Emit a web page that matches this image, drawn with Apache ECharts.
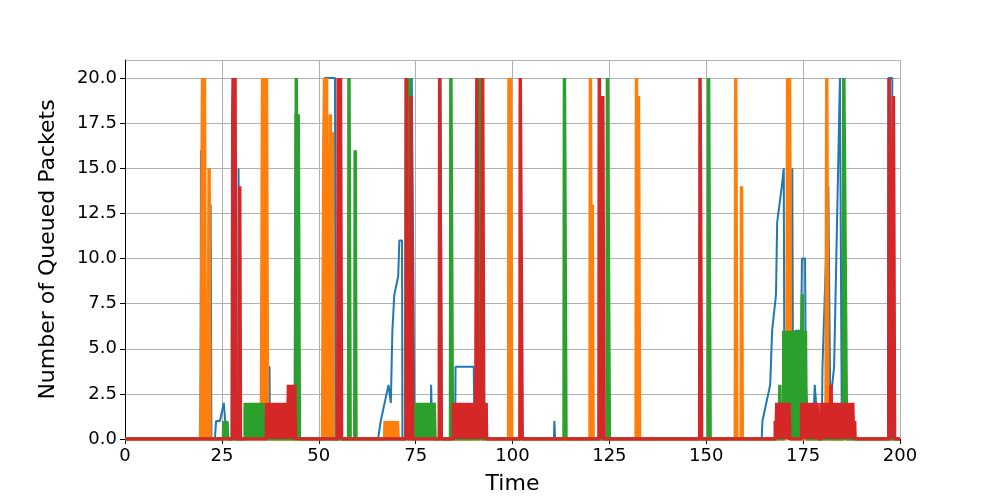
<!DOCTYPE html><html><head><meta charset="utf-8">
<script src="https://cdn.jsdelivr.net/npm/echarts@6/dist/echarts.min.js"></script>
<style>body{margin:0}#c{width:1000px;height:500px}</style></head><body><div id="c"></div>
<script>
const seriesNames=['Queue 1','Queue 2','Queue 3','Queue 4'];
const blue=[[0,0],[19.5,0],[19.6,16],[19.8,0],[22,0],[22.1,13],[22.3,0],[23.2,0],[23.5,1],[24,1],[24.5,1],[25.5,2],[26,2],[26.2,0],[27.5,0],[27.6,18],[27.9,20],[28.2,0],[29.2,0],[29.3,15],[29.6,15],[29.7,0],[36.4,0],[36.5,4],[37.3,4],[37.4,0],[43.7,0],[43.8,4],[44,18],[44.3,0],[51.4,0],[51.5,20],[54.2,20],[54.3,0],[54.9,0],[55,20],[55.5,0],[65.3,0],[66,1],[67,2],[68,3],[68.5,3],[68.6,2],[69,6],[69.5,8],[70.5,9],[70.8,11],[71.5,11],[71.6,0],[72.4,0],[72.5,20],[73,0],[73.9,0],[74,20],[74.5,7],[74.7,0],[78.9,0],[79,3],[79.3,0],[81.3,0],[81.4,20],[81.8,0],[85.2,0],[85.3,4],[90,4],[90.2,0],[110.7,0],[110.8,1],[111,0],[164.3,0],[164.5,1],[166.5,3],[167,6],[168,8],[168.3,12],[169.5,14],[170,15],[170.2,0],[172.1,0],[172.2,15],[172.4,3],[173,6],[174.5,6],[174.7,10],[175.5,10],[175.7,3],[176.5,0],[177.5,0],[178,3],[179,0],[179.8,0],[180,4],[180.5,4],[181.5,14],[182,2],[183,4],[183.5,4],[184.5,20],[185,0],[196.9,0],[197,20],[198,20],[198.2,0],[200,0]];
const orange=[[0,0],[19.5,0],[19.7,4],[20,20],[20.3,0],[20.5,20],[20.8,0],[21.5,0],[21.7,15],[21.9,0],[35.2,0],[35.5,20],[35.8,0],[36,20],[36.3,0],[36.5,20],[36.8,0],[51,0],[51.3,16],[51.5,20],[51.8,0],[52,20],[52.3,0],[52.5,11],[52.8,0],[53,18],[53.3,0],[53.5,17],[53.8,0],[67,0],[67.1,1],[67.3,0],[67.9,1],[68.1,0],[68.7,1],[68.9,0],[69.5,1],[69.7,0],[70.3,1],[70.5,0],[99,0],[99.1,20],[99.4,0],[99.5,20],[99.8,0],[120,0],[120.1,20],[120.4,0],[120.6,13],[120.8,0],[131.9,0],[132,20],[132.3,0],[132.5,19],[132.8,0],[157.5,0],[157.6,20],[157.9,0],[159,0],[159.1,14],[159.3,0],[170.8,0],[171,20],[171.3,0],[171.5,20],[171.8,0],[180.9,0],[181.1,20],[181.4,0],[200,0]];
const green=[[0,0],[25.4,0],[25.5,1],[25.7,0],[26.3,1],[26.5,0],[31,0],[31,2],[31.2,0],[31.4,2],[31.6,0],[31.8,2],[32,0],[32.2,2],[32.4,0],[32.6,2],[32.8,0],[33,2],[33.2,0],[33.4,2],[33.6,0],[33.8,2],[34,0],[34.2,2],[34.4,0],[34.6,2],[34.8,0],[35,2],[35.2,0],[35.6,2],[35.7,0],[44.1,0],[44.2,20],[44.5,0],[44.7,18],[45,0],[57.7,0],[57.8,20],[58.1,0],[59.3,0],[59.4,16],[59.6,0],[72.5,0],[72.6,20],[72.9,0],[73.4,20],[73.7,0],[75,0],[75,2],[75.2,0],[75.4,2],[75.6,0],[75.8,2],[76,0],[76.2,2],[76.4,0],[76.6,2],[76.8,0],[77,2],[77.2,0],[77.4,2],[77.6,0],[77.8,2],[78,0],[78.2,2],[78.4,0],[78.6,2],[78.8,0],[79,2],[79.2,0],[79.4,2],[79.6,0],[79.8,2],[80,0],[84,0],[84.1,20],[84.5,0],[91.4,0],[91.5,20],[91.9,0],[113.3,0],[113.4,20],[113.8,0],[124.4,0],[124.5,20],[125,0],[150.5,0],[150.6,20],[151,0],[168.8,0],[169,3],[169.2,0],[170,0],[170,6],[170.2,0],[170.4,6],[170.6,0],[170.8,6],[171,0],[171.2,6],[171.4,0],[171.6,6],[171.8,0],[172,6],[172.2,0],[172.4,6],[172.6,0],[172.8,6],[173,0],[173.2,6],[173.4,0],[173.6,6],[173.8,0],[174,6],[174.2,0],[174.4,6],[174.6,0],[174.8,8],[175,0],[175.2,6],[175.4,0],[175.6,6],[175.8,0],[185.4,0],[185.5,20],[186.2,0],[200,0]];
const red=[[0,0],[27.7,0],[27.9,20],[28.2,0],[28.4,20],[28.6,0],[29.5,0],[29.6,14],[29.8,0],[36.5,0],[36.5,2],[36.7,0],[36.9,2],[37.1,0],[37.3,2],[37.5,0],[37.7,2],[37.9,0],[38.1,2],[38.3,0],[38.5,2],[38.7,0],[38.9,2],[39.1,0],[39.3,2],[39.5,0],[39.7,2],[39.9,0],[40.1,2],[40.3,0],[40.5,2],[40.7,0],[40.9,2],[41.1,0],[41.3,2],[41.5,0],[41.7,2],[41.9,0],[42.2,3],[42.4,0],[42.6,3],[42.8,0],[43,3],[43.2,0],[43.4,3],[43.6,0],[43.8,3],[44,0],[54.9,0],[55,20],[55.3,0],[55.6,20],[55.9,0],[65.5,0],[72.5,0],[72.6,20],[73,0],[73.7,0],[73.8,19],[74.2,0],[81.1,0],[81.2,20],[81.6,0],[84.7,0],[84.7,2],[84.9,0],[85.1,2],[85.3,0],[85.5,2],[85.7,0],[85.9,2],[86.1,0],[86.3,2],[86.5,0],[86.7,2],[86.9,0],[87.1,2],[87.3,0],[87.5,2],[87.7,0],[87.9,2],[88.1,0],[88.3,2],[88.5,0],[88.7,2],[88.9,0],[89.1,2],[89.3,0],[89.5,2],[89.7,0],[89.9,2],[90.1,0],[90.3,2],[90.5,0],[90.8,20],[91.1,0],[91.3,2],[91.5,0],[91.7,2],[91.9,0],[92.3,20],[92.6,0],[92.8,2],[93,0],[93.2,2],[93.3,0],[101.9,0],[102,20],[102.5,0],[122.3,0],[122.4,20],[122.8,0],[123.3,19],[123.6,0],[148.3,0],[148.4,20],[148.8,0],[167.8,0],[167.8,1],[168,0],[168.2,2],[168.4,0],[168.6,2],[168.8,0],[169,2],[169.2,0],[169.4,2],[169.6,0],[169.8,2],[170,0],[170.2,2],[170.4,0],[170.6,2],[170.8,0],[171,2],[171.2,0],[171.4,2],[171.5,0],[174.6,0],[174.6,2],[174.8,0],[175,2],[175.2,0],[175.4,2],[175.6,0],[175.8,2],[176,0],[176.2,2],[176.4,0],[176.6,2],[176.8,0],[177,2],[177.2,0],[177.4,2],[177.6,0],[177.8,2],[178,0],[178.2,2],[178.4,0],[178.6,2],[178.9,0],[179.6,0],[179.6,2],[179.8,0],[180,2],[180.2,0],[180.4,2],[180.6,0],[180.8,2],[181,0],[181.2,2],[181.4,0],[181.6,2],[181.8,0],[182.2,3],[182.4,0],[182.6,2],[182.8,0],[183,2],[183.2,0],[183.4,2],[183.6,0],[183.8,2],[184,0],[184.2,2],[184.4,0],[184.6,2],[184.8,0],[185,2],[185.2,0],[185.6,2],[185.8,0],[186.2,2],[186.4,0],[186.6,2],[186.8,0],[187,2],[187.2,0],[187.4,2],[187.6,0],[187.8,2],[188,0],[188.3,1],[188.4,0],[197.1,0],[197.2,20],[197.6,0],[198.3,19],[198.6,0],[200,0]];
const colors=['#1f77b4','#ff7f0e','#2ca02c','#d62728'];
const widths=[2,3.5,3.5,3.5];
const datasets=[blue,orange,green,red];
const chart=echarts.init(document.getElementById('c'));
const ax={color:'#000',fontSize:18,fontFamily:'DejaVu Sans'};
chart.setOption({
 animation:false,
 grid:{left:125,right:100,top:60,bottom:55},
 xAxis:{type:'value',min:0,max:200,interval:25,name:'Time',nameLocation:'middle',nameGap:34,nameTextStyle:{fontSize:22,color:'#000',fontFamily:'DejaVu Sans'},
  axisLine:{onZero:false,lineStyle:{color:'#000'}},axisTick:{lineStyle:{color:'#000'},length:5},axisLabel:Object.assign({margin:8},ax),
  splitLine:{show:true,lineStyle:{color:'#b0b0b0'}}},
 yAxis:{type:'value',min:0,max:21,interval:2.5,name:'Number of Queued Packets',nameLocation:'middle',nameGap:66,nameTextStyle:{fontSize:22,color:'#000',fontFamily:'DejaVu Sans'},
  axisLine:{show:true,lineStyle:{color:'#000'}},axisTick:{show:true,lineStyle:{color:'#000'},length:5},
  axisLabel:Object.assign({formatter:v=>v>20?'':v.toFixed(1),showMaxLabel:false},ax),
  splitLine:{show:true,lineStyle:{color:'#b0b0b0'}}},
 series:datasets.map((d,i)=>({name:seriesNames[i],type:'line',data:d,showSymbol:false,lineStyle:{width:widths[i],color:colors[i]},itemStyle:{color:colors[i]}}))
});
</script></body></html>
